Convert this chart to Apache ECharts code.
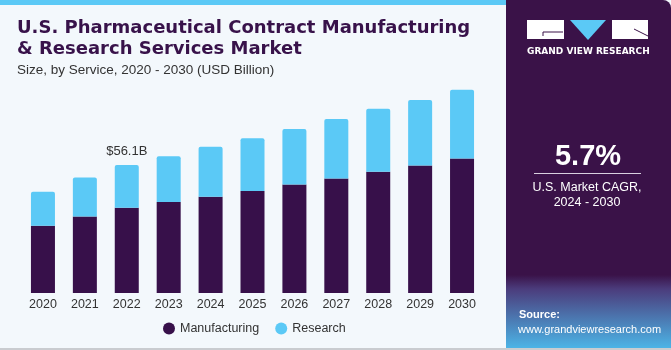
<!DOCTYPE html>
<html>
<head>
<meta charset="utf-8">
<script src="https://cdn.jsdelivr.net/npm/echarts@6/dist/echarts.min.js"></script>
<style>
  html, body { margin: 0; padding: 0; background: #f3f8fc; }
  #chart { width: 671px; height: 350px; }
</style>
</head>
<body>
<div id="chart"></div>
<script>
// values (USD billion)
const years = ["2020", "2021", "2022", "2023", "2024", "2025", "2026", "2027", "2028", "2029", "2030"];
const manufacturing = [29.5, 33.6, 37.4, 39.9, 42.2, 44.7, 47.6, 50.2, 53.2, 55.9, 59.0];
const research = [14.9, 17.1, 18.7, 20.1, 21.9, 23.2, 24.3, 26.1, 27.6, 28.8, 30.1];
const highlightIdx = 2;
const highlightLabel = "$56.1B";

let myChart = echarts.init(document.getElementById("chart"));

// research data with label only on 2022
let researchData = research.map((v, i) => {
  if (i !== highlightIdx) return v;
  return {
    value: v,
    label: {
      show: true,
      position: "top",
      distance: 7,
      formatter: highlightLabel,
      color: "#333",
      fontSize: 13,
      fontFamily: "Liberation Sans",
    },
  };
});

let option = {
  backgroundColor: "#f3f8fc",
  animation: false,
  title: [
    {
      text: "U.S. Pharmaceutical Contract Manufacturing\n& Research Services Market",
      left: 17,
      top: 18,
      padding: 0,
      textStyle: {
        color: "#38124a",
        fontSize: 18,
        fontWeight: "bold",
        fontFamily: "DejaVu Sans",
        lineHeight: 21,
      },
    },
    {
      text: "Size, by Service, 2020 - 2030 (USD Billion)",
      left: 17,
      top: 63,
      padding: 0,
      textStyle: {
        color: "#333",
        fontSize: 13.5,
        fontWeight: "normal",
        fontFamily: "Liberation Sans",
      },
    },
  ],
  legend: {
    data: ["Manufacturing", "Research"],
    left: 158,
    top: 317,
    icon: "circle",
    itemWidth: 12,
    itemHeight: 12,
    itemGap: 16,
    textStyle: { color: "#333", fontSize: 12.5, fontFamily: "Liberation Sans" },
  },
  grid: {
    left: 22,
    right: 188,
    top: 65,
    bottom: 57,
  },
  xAxis: {
    type: "category",
    data: years,
    axisLine: { show: false },
    axisTick: { show: false },
    axisLabel: {
      color: "#333",
      fontSize: 12.5,
      fontFamily: "Liberation Sans",
      margin: 5,
    },
  },
  yAxis: {
    type: "value",
    min: 0,
    max: 100,
    show: false,
  },
  series: [
    {
      name: "Manufacturing",
      type: "bar",
      stack: "total",
      barWidth: 24,
      itemStyle: { color: "#37104a" },
      data: manufacturing,
    },
    {
      name: "Research",
      type: "bar",
      stack: "total",
      barWidth: 24,
      itemStyle: { color: "#5bc9f6", borderRadius: [2, 2, 0, 0] },
      data: researchData,
    },
  ],
  graphic: [
    // top blue strip
    { type: "rect", left: 0, top: 0, shape: { width: 510, height: 5 }, style: { fill: "#5bc9f6" }, z: 10 },
    // bottom gray line
    { type: "rect", left: 0, top: 348, shape: { width: 671, height: 2 }, style: { fill: "#c9ccd0" }, z: 10 },
    // right panel
    {
      type: "rect",
      left: 506,
      top: 0,
      shape: { width: 165, height: 348, r: [0, 8, 0, 0] },
      style: {
        fill: new echarts.graphic.LinearGradient(0, 0, 0, 1, [
          { offset: 0, color: "#3a1248" },
          { offset: 0.79, color: "#3a1248" },
          { offset: 0.83, color: "#4b3c7c" },
          { offset: 1, color: "#4cb4e6" },
        ]),
      },
      z: 10,
    },
    // logo blocks
    { type: "rect", left: 527, top: 20, shape: { width: 37, height: 19 }, style: { fill: "#ffffff" }, z: 11 },
    { type: "polygon", shape: { points: [[570, 20], [606, 20], [588, 40]] }, style: { fill: "#5bc9f6" }, z: 11 },
    { type: "rect", left: 612, top: 20, shape: { width: 36, height: 19 }, style: { fill: "#ffffff" }, z: 11 },
    { type: "line", shape: { x1: 543, y1: 32, x2: 563, y2: 32 }, style: { stroke: "#3a1248", lineWidth: 1 }, z: 12 },
    { type: "line", shape: { x1: 543, y1: 32, x2: 543, y2: 36 }, style: { stroke: "#3a1248", lineWidth: 1 }, z: 12 },
    { type: "line", shape: { x1: 634, y1: 29, x2: 648, y2: 36 }, style: { stroke: "#3a1248", lineWidth: 1 }, z: 12 },
    {
      type: "text",
      left: 527,
      top: 47,
      style: {
        text: "GRAND VIEW RESEARCH",
        fill: "#ffffff",
        font: "bold 9px 'DejaVu Sans'",
      },
      z: 11,
    },
    // CAGR
    {
      type: "text",
      x: 588,
      y: 157,
      style: {
        text: "5.7%",
        fill: "#ffffff",
        font: "bold 29px 'Liberation Sans'",
        align: "center",
        verticalAlign: "middle",
      },
      z: 11,
    },
    { type: "rect", left: 534, top: 173, shape: { width: 107, height: 1 }, style: { fill: "#d8d0df" }, z: 11 },
    {
      type: "text",
      x: 587,
      y: 180,
      style: {
        text: "U.S. Market CAGR,\n2024 - 2030",
        fill: "#ffffff",
        font: "12.5px 'Liberation Sans'",
        align: "center",
        verticalAlign: "top",
        lineHeight: 15,
      },
      z: 11,
    },
    // source
    {
      type: "text",
      left: 519,
      top: 309,
      style: {
        text: "Source:",
        fill: "#ffffff",
        font: "bold 11px 'Liberation Sans'",
      },
      z: 11,
    },
    {
      type: "text",
      left: 518,
      top: 324,
      style: {
        text: "www.grandviewresearch.com",
        fill: "#ffffff",
        font: "11px 'Liberation Sans'",
      },
      z: 11,
    },
  ],
};

myChart.setOption(option);
</script>
</body>
</html>
